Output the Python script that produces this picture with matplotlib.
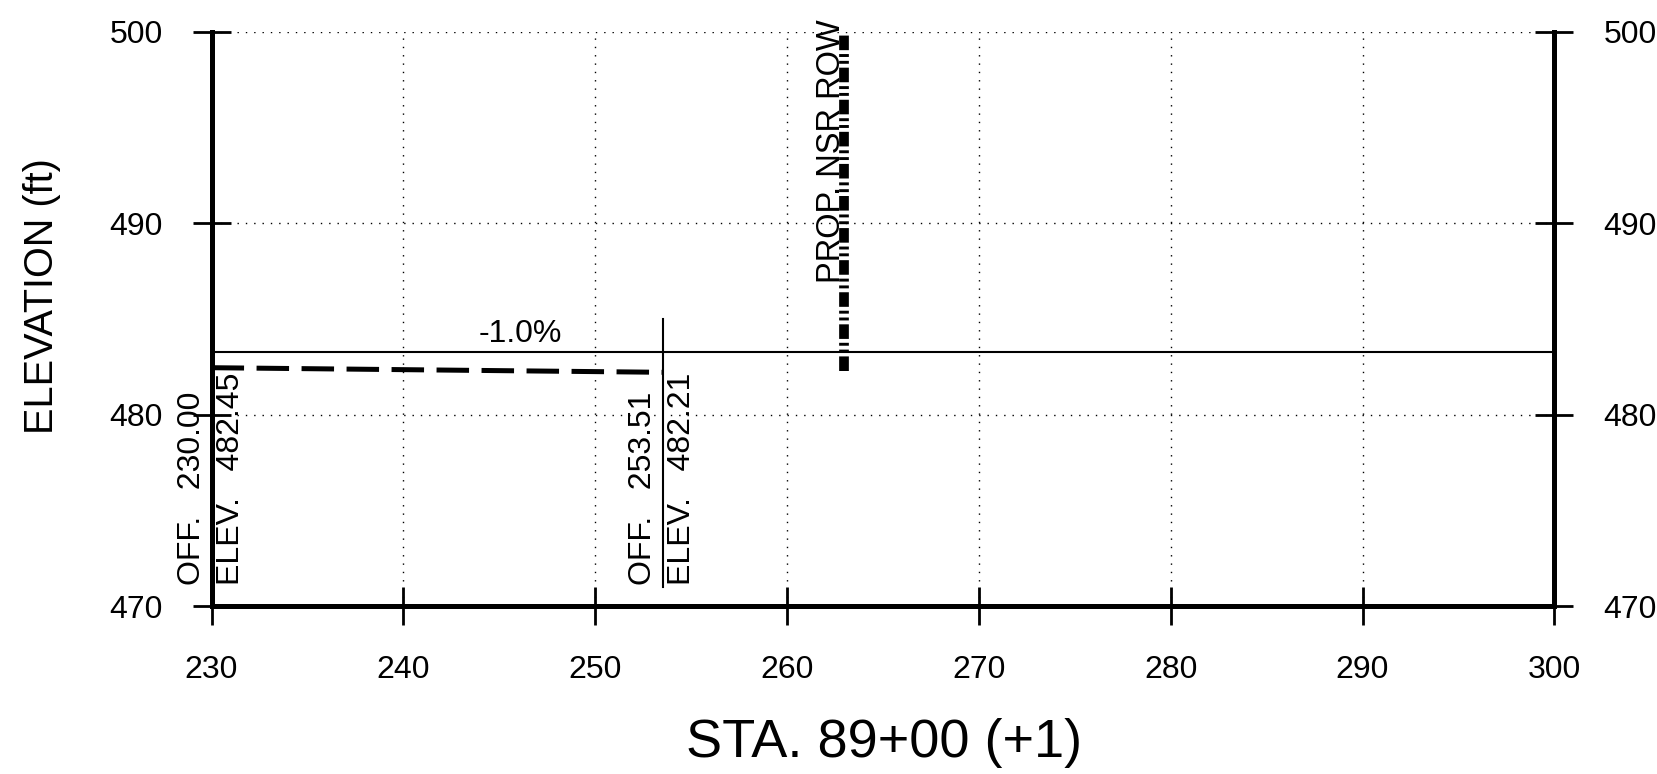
import matplotlib
matplotlib.use('Agg')
import matplotlib.pyplot as plt

plt.rcParams.update({
    'font.family': ['Liberation Sans', 'DejaVu Sans'],
    'font.size': 23,
})

# ── Data ───────────────────────────────────────────────────────────
x_range = [230, 300]
y_range = [470, 500]
x_ticks = [230, 240, 250, 260, 270, 280, 290, 300]
y_ticks = [470, 480, 490, 500]

ground_elev = 483.25            # existing grade line
slope_x = [230.00, 253.51]      # proposed slope (-1.0%)
slope_y = [482.45, 482.21]
slope_label = '-1.0%'
slope_label_pos = (246.1, 483.45)

marker_x = [230.00, 253.51]     # offset call-outs
marker_elev = [482.45, 482.21]
marker_span = (471.0, 485.0)

row_x = 262.95                  # proposed NSR ROW
row_y = [482.3, 500.0]
row_label = 'PROP. NSR ROW'

# ── Figure ─────────────────────────────────────────────────────────
fig = plt.figure(figsize=(16.58, 7.74), dpi=100)
ax = fig.add_axes([0.1276, 0.217, 0.8099, 0.742])

ax.set_xlim(*x_range)
ax.set_ylim(*y_range)
ax.set_xticks(x_ticks)
ax.set_yticks(y_ticks)

ax.grid(True, color='black', linestyle=(0, (1, 5)), linewidth=1.0)
ax.set_axisbelow(True)

for side in ('left', 'right', 'bottom'):
    ax.spines[side].set_linewidth(3.6)
ax.spines['top'].set_visible(False)
ax.tick_params(axis='both', direction='inout', length=27.4, width=2,
               pad=21.6, labelsize=23, right=True, labelright=True)

# existing grade
ax.plot(x_range, [ground_elev, ground_elev], color='black', linewidth=1.5)

# proposed slope
ax.plot(slope_x, slope_y, color='black', linewidth=3.6,
        linestyle=(0, (6.5, 2.5)), dash_capstyle='butt')
ax.text(*slope_label_pos, slope_label, ha='center', va='bottom', fontsize=23)

# offset call-outs
for xv, ev in zip(marker_x, marker_elev):
    ax.plot([xv, xv], marker_span, color='black', linewidth=1.5)
    ax.text(xv - 0.25, marker_span[0] + 0.1, f'OFF.   {xv:.2f}', rotation=90,
            ha='right', va='bottom', fontsize=23)
    ax.text(xv + 0.25, marker_span[0] + 0.1, f'ELEV.   {ev:.2f}', rotation=90,
            ha='left', va='bottom', fontsize=23)

# proposed ROW
ax.plot([row_x, row_x], row_y, color='black', linewidth=7,
        linestyle=(0, (1.5, 0.4, 0.3, 0.4, 0.3, 0.4)), dash_capstyle='butt',
        clip_on=False)
ax.text(row_x + 0.15, 486.9, row_label, rotation=90, ha='right', va='bottom',
        fontsize=23.5)

ax.set_ylabel('ELEVATION (ft)', fontsize=28.5)
ax.yaxis.set_label_coords(-0.126, 0.54)
ax.set_xlabel('STA. 89+00 (+1)', fontsize=39)
ax.xaxis.set_label_coords(0.5008, -0.2386)
ax.xaxis.label.set_verticalalignment('center')
ax.yaxis.label.set_verticalalignment('center')

fig.savefig('out.png', dpi=100)
